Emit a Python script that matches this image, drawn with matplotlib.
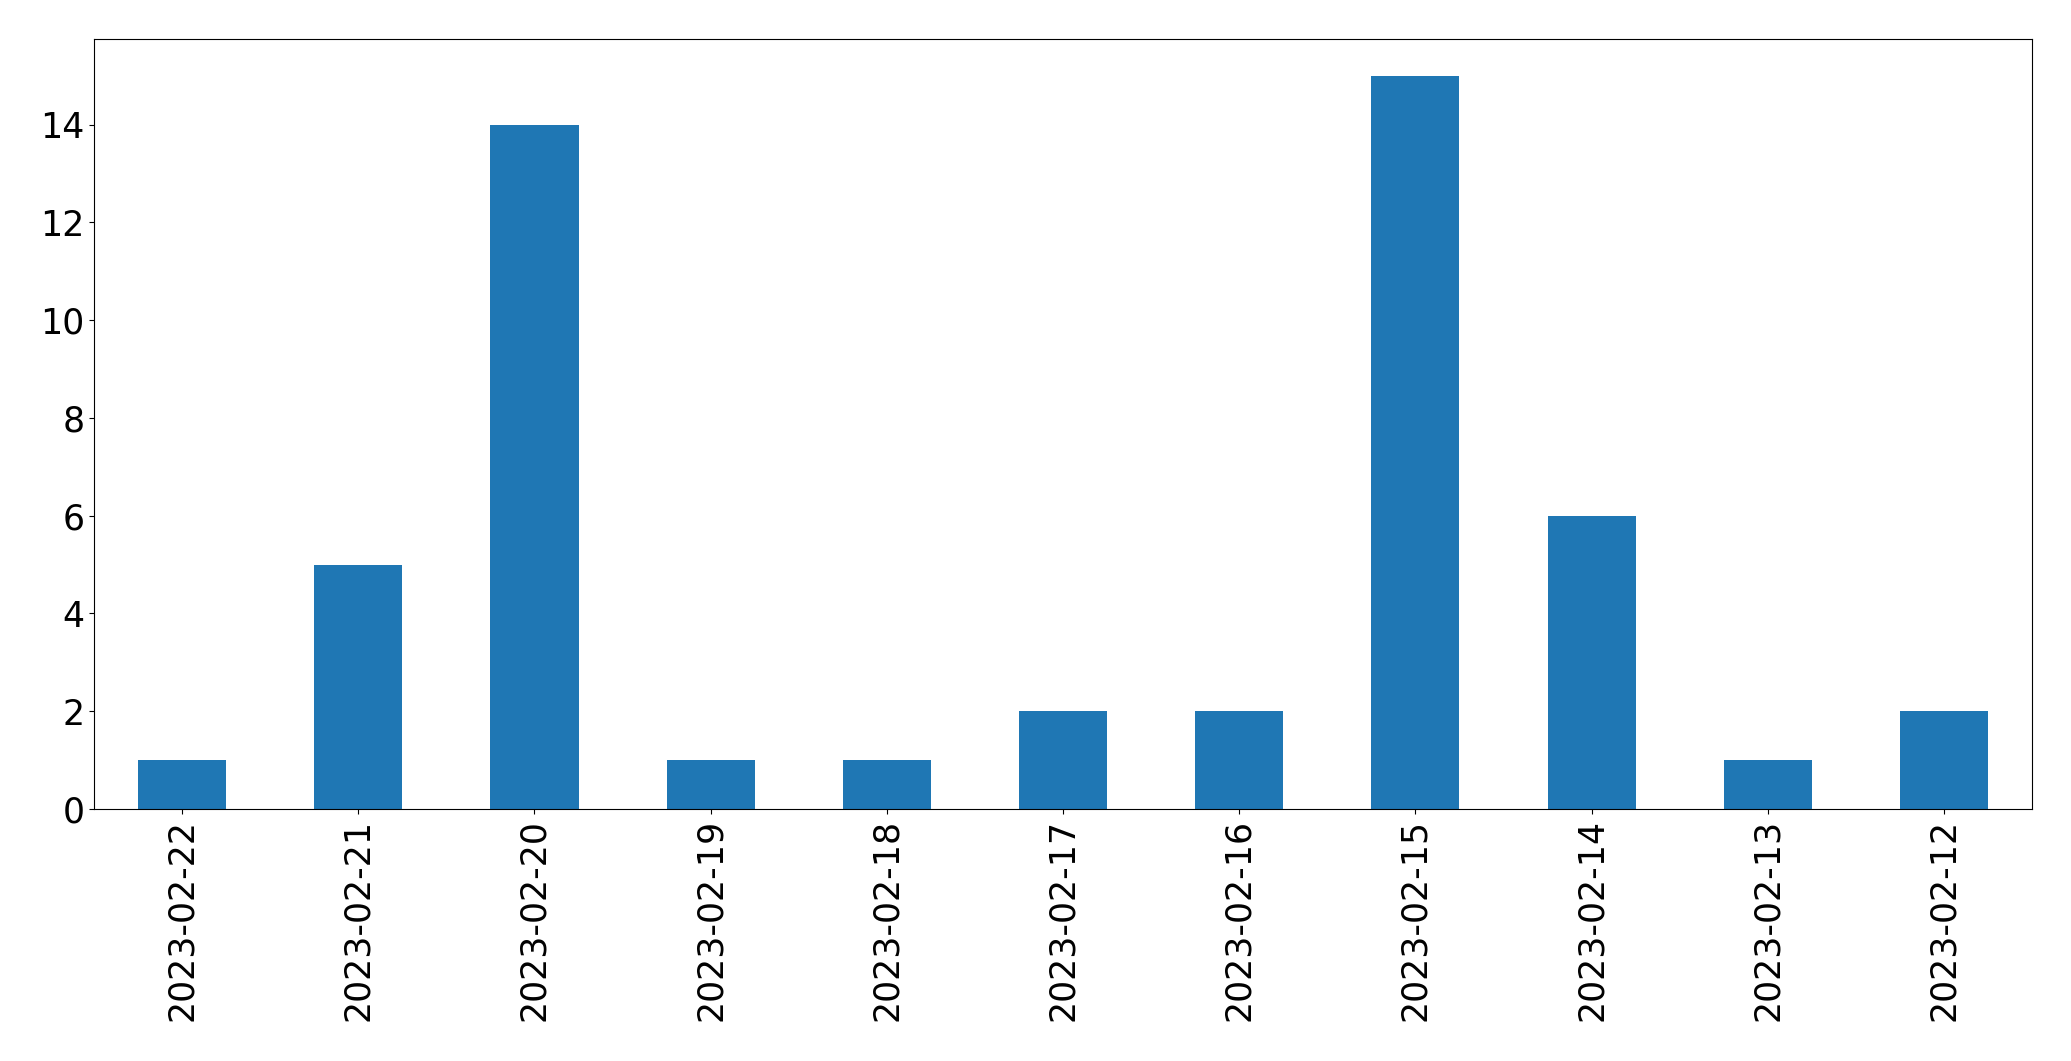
import matplotlib
matplotlib.use("Agg")
import matplotlib.pyplot as plt
import pandas as pd

dates = ["2023-02-22", "2023-02-21", "2023-02-20", "2023-02-19", "2023-02-18",
         "2023-02-17", "2023-02-16", "2023-02-15", "2023-02-14", "2023-02-13",
         "2023-02-12"]
counts = [1, 5, 14, 1, 1, 2, 2, 15, 6, 1, 2]

fig = plt.figure(figsize=(20.71, 10.61), dpi=100)
ax = fig.add_axes([94 / 2071, 1 - 809 / 1061, (2032 - 94) / 2071, (809 - 39) / 1061])
s = pd.Series(counts, index=dates)
s.plot(kind="bar", ax=ax, color="#1f77b4", width=0.5)
ax.tick_params(axis="both", labelsize=25)
fig.savefig("out.png", dpi=100)
